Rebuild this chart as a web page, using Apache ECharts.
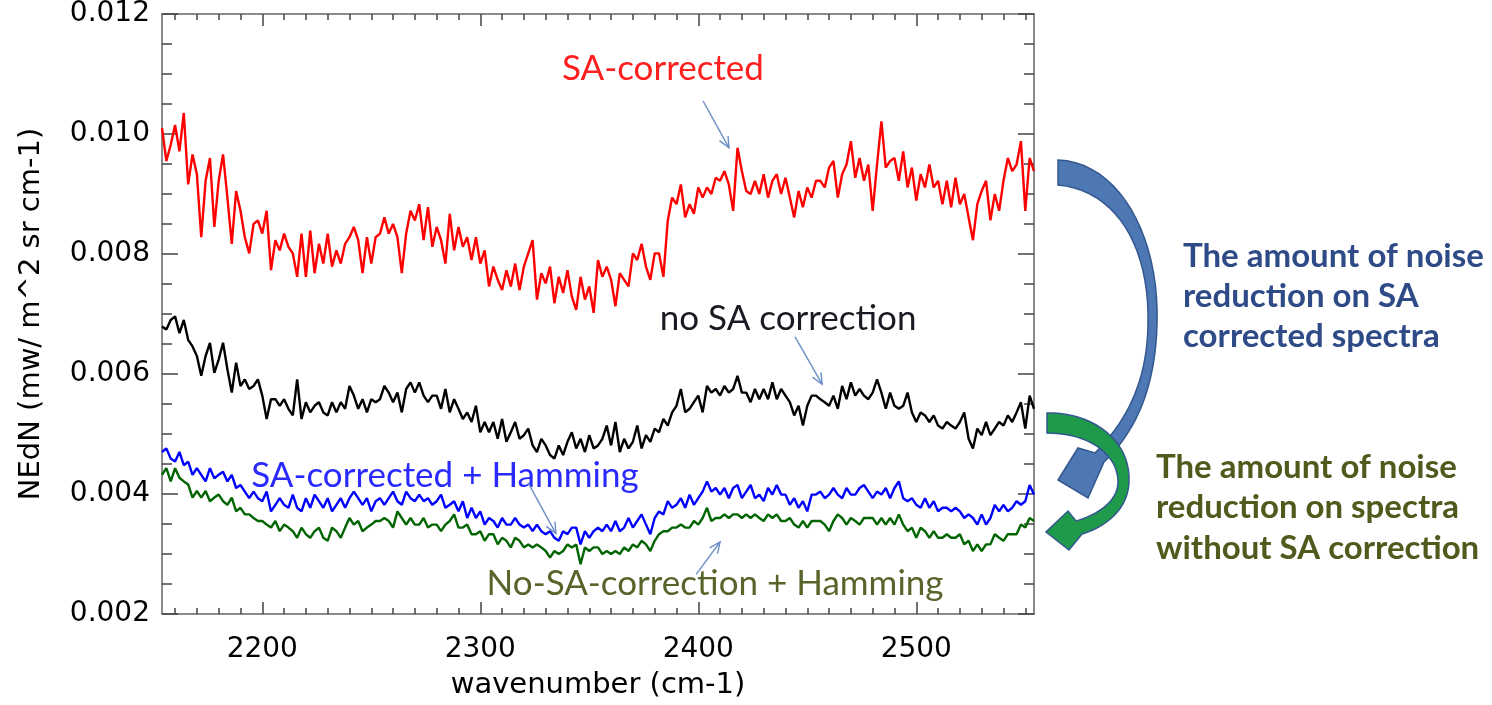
<!DOCTYPE html>
<html><head><meta charset="utf-8">
<script src="https://cdn.jsdelivr.net/npm/echarts@6/dist/echarts.min.js"></script>
<style>html,body{margin:0;padding:0;background:#fff}#c{width:1492px;height:705px}</style>
</head><body><div id="c"></div>
<script>
// ---------------- data ----------------
const wavenumber = [
2154,2156,2158,2160,2162,2164,2166,2168,2170,2172,2174,2176,2178,2180,2182,2184,2186,2188,2190,2192,2194,2196,2198,2200,2202,2204,2206,2208,2210,2212,2214,2216,2218,2220,2222,2224,2226,2228,2230,2232,2234,2236,2238,2240,2242,2244,2246,2248,2250,2252,
2254,2256,2258,2260,2262,2264,2266,2268,2270,2272,2274,2276,2278,2280,2282,2284,2286,2288,2290,2292,2294,2296,2298,2300,2302,2304,2306,2308,2310,2312,2314,2316,2318,2320,2322,2324,2326,2328,2330,2332,2334,2336,2338,2340,2342,2344,2346,2348,2350,2352,
2354,2356,2358,2360,2362,2364,2366,2368,2370,2372,2374,2376,2378,2380,2382,2384,2386,2388,2390,2392,2394,2396,2398,2400,2402,2404,2406,2408,2410,2412,2414,2416,2418,2420,2422,2424,2426,2428,2430,2432,2434,2436,2438,2440,2442,2444,2446,2448,2450,2452,2454,
2456,2458,2460,2462,2464,2466,2468,2470,2472,2474,2476,2478,2480,2482,2484,2486,2488,2490,2492,2494,2496,2498,2500,2502,2504,2506,2508,2510,2512,2514,2516,2518,2520,2522,2524,2526,2528,2530,2532,2534,2536,2538,2540,2542,2544,2546,2548,2550,2552,2554];

const saCorrected = [
0.01010,0.00955,0.00982,0.01015,0.00971,0.01035,0.00916,0.00966,0.00933,0.00828,0.00922,0.00960,0.00845,0.00922,0.00966,0.00894,0.00817,0.00905,0.00872,0.00828,0.00801,0.00850,0.00856,0.00834,0.00872,0.00773,0.00823,0.00806,0.00834,0.00812,0.00801,0.00762,0.00834,0.00762,0.00839,0.00768,0.00817,0.00784,0.00834,0.00779,0.00806,0.00784,0.00817,0.00828,0.00845,0.00823,0.00768,0.00828,0.00784,0.00828,
0.00834,0.00861,0.00834,0.00850,0.00828,0.00768,0.00834,0.00872,0.00856,0.00883,0.00823,0.00878,0.00812,0.00845,0.00823,0.00784,0.00867,0.00806,0.00845,0.00812,0.00828,0.00790,0.00828,0.00784,0.00806,0.00746,0.00779,0.00757,0.00740,0.00773,0.00746,0.00784,0.00740,0.00779,0.00801,0.00823,0.00724,0.00768,0.00751,0.00779,0.00718,0.00762,0.00735,0.00773,0.00729,0.00707,0.00762,0.00724,0.00746,0.00702,
0.00790,0.00762,0.00779,0.00757,0.00713,0.00768,0.00757,0.00746,0.00801,0.00790,0.00817,0.00779,0.00757,0.00801,0.00801,0.00762,0.00856,0.00894,0.00883,0.00916,0.00861,0.00883,0.00867,0.00911,0.00894,0.00911,0.00900,0.00927,0.00922,0.00938,0.00916,0.00872,0.00977,0.00938,0.00905,0.00900,0.00922,0.00900,0.00933,0.00894,0.00922,0.00933,0.00900,0.00927,0.00894,0.00861,0.00905,0.00878,0.00911,0.00894,0.00922,
0.00922,0.00911,0.00944,0.00955,0.00894,0.00933,0.00949,0.00988,0.00927,0.00960,0.00922,0.00949,0.00872,0.00949,0.01021,0.00944,0.00955,0.00960,0.00922,0.00971,0.00911,0.00944,0.00889,0.00933,0.00911,0.00949,0.00911,0.00922,0.00883,0.00922,0.00878,0.00927,0.00883,0.00900,0.00861,0.00823,0.00883,0.00905,0.00922,0.00856,0.00900,0.00872,0.00922,0.00960,0.00938,0.00949,0.00988,0.00872,0.00960,0.00938];

const noSACorrection = [
0.00679,0.00674,0.00690,0.00696,0.00668,0.00690,0.00657,0.00646,0.00630,0.00597,0.00630,0.00652,0.00602,0.00624,0.00652,0.00608,0.00569,0.00619,0.00580,0.00591,0.00575,0.00580,0.00591,0.00564,0.00525,0.00558,0.00558,0.00547,0.00558,0.00542,0.00531,0.00591,0.00525,0.00553,0.00536,0.00547,0.00553,0.00536,0.00531,0.00553,0.00536,0.00553,0.00542,0.00580,0.00564,0.00542,0.00558,0.00536,0.00558,0.00553,
0.00558,0.00580,0.00569,0.00553,0.00569,0.00536,0.00575,0.00586,0.00569,0.00586,0.00564,0.00553,0.00564,0.00564,0.00542,0.00575,0.00536,0.00558,0.00542,0.00525,0.00536,0.00520,0.00547,0.00503,0.00520,0.00503,0.00520,0.00492,0.00525,0.00487,0.00503,0.00520,0.00492,0.00498,0.00509,0.00481,0.00470,0.00492,0.00481,0.00465,0.00459,0.00481,0.00465,0.00487,0.00503,0.00476,0.00492,0.00470,0.00498,0.00476,
0.00481,0.00492,0.00514,0.00481,0.00520,0.00470,0.00492,0.00476,0.00487,0.00514,0.00476,0.00498,0.00487,0.00509,0.00503,0.00525,0.00514,0.00536,0.00547,0.00575,0.00536,0.00542,0.00553,0.00564,0.00536,0.00580,0.00569,0.00575,0.00564,0.00580,0.00569,0.00575,0.00597,0.00569,0.00569,0.00553,0.00575,0.00558,0.00575,0.00558,0.00586,0.00558,0.00575,0.00564,0.00553,0.00531,0.00547,0.00514,0.00547,0.00564,0.00564,
0.00558,0.00553,0.00547,0.00564,0.00542,0.00580,0.00558,0.00586,0.00564,0.00575,0.00564,0.00558,0.00569,0.00591,0.00569,0.00542,0.00569,0.00547,0.00542,0.00547,0.00569,0.00536,0.00520,0.00536,0.00531,0.00520,0.00531,0.00514,0.00509,0.00520,0.00514,0.00509,0.00520,0.00536,0.00492,0.00476,0.00509,0.00498,0.00520,0.00498,0.00509,0.00520,0.00514,0.00531,0.00520,0.00536,0.00553,0.00509,0.00564,0.00542];

const saCorrectedHamming = [
0.00470,0.00476,0.00459,0.00454,0.00470,0.00448,0.00454,0.00432,0.00443,0.00432,0.00421,0.00443,0.00426,0.00432,0.00437,0.00421,0.00432,0.00410,0.00415,0.00404,0.00393,0.00404,0.00393,0.00388,0.00404,0.00371,0.00382,0.00393,0.00382,0.00377,0.00399,0.00377,0.00371,0.00393,0.00377,0.00399,0.00388,0.00377,0.00393,0.00371,0.00382,0.00393,0.00377,0.00393,0.00404,0.00393,0.00382,0.00393,0.00371,0.00388,
0.00393,0.00382,0.00393,0.00404,0.00388,0.00382,0.00404,0.00393,0.00388,0.00399,0.00388,0.00393,0.00382,0.00388,0.00399,0.00377,0.00382,0.00388,0.00371,0.00388,0.00360,0.00377,0.00360,0.00371,0.00349,0.00360,0.00355,0.00344,0.00360,0.00349,0.00349,0.00360,0.00349,0.00344,0.00349,0.00338,0.00349,0.00338,0.00333,0.00338,0.00327,0.00322,0.00338,0.00333,0.00344,0.00344,0.00316,0.00338,0.00327,0.00338,
0.00344,0.00338,0.00349,0.00338,0.00355,0.00338,0.00344,0.00360,0.00344,0.00355,0.00366,0.00349,0.00333,0.00360,0.00371,0.00366,0.00388,0.00377,0.00382,0.00393,0.00377,0.00399,0.00382,0.00393,0.00404,0.00421,0.00404,0.00410,0.00399,0.00410,0.00393,0.00410,0.00415,0.00393,0.00404,0.00415,0.00393,0.00399,0.00388,0.00410,0.00399,0.00415,0.00399,0.00399,0.00382,0.00393,0.00377,0.00388,0.00371,0.00399,0.00399,
0.00404,0.00393,0.00399,0.00410,0.00399,0.00393,0.00410,0.00399,0.00399,0.00410,0.00415,0.00404,0.00393,0.00404,0.00399,0.00410,0.00393,0.00410,0.00421,0.00393,0.00388,0.00393,0.00382,0.00377,0.00393,0.00377,0.00388,0.00371,0.00377,0.00377,0.00371,0.00377,0.00371,0.00360,0.00366,0.00360,0.00349,0.00366,0.00349,0.00360,0.00382,0.00371,0.00382,0.00371,0.00377,0.00388,0.00382,0.00388,0.00415,0.00399];

const noSACorrectionHamming = [
0.00432,0.00443,0.00421,0.00443,0.00427,0.00421,0.00416,0.00394,0.00405,0.00394,0.00405,0.00388,0.00394,0.00399,0.00388,0.00382,0.00394,0.00371,0.00377,0.00366,0.00366,0.00360,0.00355,0.00355,0.00349,0.00344,0.00355,0.00338,0.00349,0.00344,0.00338,0.00327,0.00344,0.00333,0.00327,0.00338,0.00344,0.00327,0.00322,0.00344,0.00338,0.00327,0.00344,0.00360,0.00349,0.00355,0.00338,0.00344,0.00349,0.00355,
0.00355,0.00360,0.00355,0.00344,0.00371,0.00360,0.00349,0.00360,0.00349,0.00349,0.00360,0.00344,0.00349,0.00349,0.00338,0.00349,0.00355,0.00366,0.00344,0.00344,0.00349,0.00333,0.00333,0.00338,0.00322,0.00333,0.00333,0.00316,0.00327,0.00322,0.00311,0.00327,0.00322,0.00311,0.00316,0.00311,0.00316,0.00311,0.00305,0.00294,0.00305,0.00300,0.00305,0.00316,0.00311,0.00316,0.00283,0.00311,0.00305,0.00311,
0.00311,0.00300,0.00305,0.00300,0.00305,0.00300,0.00311,0.00305,0.00316,0.00311,0.00322,0.00316,0.00305,0.00322,0.00333,0.00338,0.00338,0.00344,0.00344,0.00349,0.00344,0.00344,0.00355,0.00349,0.00360,0.00377,0.00355,0.00360,0.00360,0.00366,0.00360,0.00366,0.00366,0.00360,0.00366,0.00360,0.00366,0.00360,0.00355,0.00366,0.00360,0.00366,0.00355,0.00355,0.00360,0.00349,0.00344,0.00355,0.00344,0.00355,0.00355,
0.00355,0.00349,0.00338,0.00355,0.00366,0.00360,0.00349,0.00360,0.00355,0.00349,0.00360,0.00360,0.00360,0.00349,0.00360,0.00349,0.00360,0.00349,0.00366,0.00349,0.00338,0.00344,0.00327,0.00344,0.00338,0.00327,0.00338,0.00327,0.00327,0.00333,0.00327,0.00327,0.00333,0.00316,0.00322,0.00305,0.00316,0.00305,0.00316,0.00316,0.00333,0.00327,0.00322,0.00333,0.00333,0.00333,0.00349,0.00344,0.00360,0.00355];

const xMajorTicks = [2200, 2300, 2400, 2500];
const xMinorTicks = [2160,2170,2180,2190,2210,2220,2230,2240,2250,2260,2270,2280,2290,2310,2320,2330,2340,2350,2360,2370,2380,2390,2410,2420,2430,2440,2450,2460,2470,2480,2490,2510,2520,2530,2540,2550];

// annotation texts (positions in data units)
const curveLabels = [
  {text: 'SA-corrected', at: [2383.8, 0.01108], color: '#ff1f1f'},
  {text: 'no SA correction', at: [2441.2, 0.00692], color: '#1a1a22'},
  {text: 'SA-corrected + Hamming', at: [2283.8, 0.00430], color: '#2a2aff'},
  {text: 'No-SA-correction + Hamming', at: [2407.7, 0.00250], color: '#57652a'}
];
const pointerArrows = [
  {from: [2402.2, 0.01055], to: [2414.1, 0.00977]},
  {from: [2444.4, 0.00662], to: [2456.8, 0.00583]},
  {from: [2321.9, 0.00419], to: [2334.7, 0.00334]},
  {from: [2399.0, 0.00266], to: [2410.0, 0.00320]}
];
const noteSA = ['The amount of noise', 'reduction on SA', 'corrected spectra'];
const noteNoSA = ['The amount of noise', 'reduction on spectra', 'without SA correction'];

// ---------------- chart ----------------
const chart = echarts.init(document.getElementById('c'), null, {renderer: 'canvas'});
const XMIN = 2154, XMAX = 2554;
const frame = {color: '#8a8a8a', width: 2};
const tickStyle = {color: '#444', width: 1.5};
const labelFont = {fontFamily: 'DejaVu Sans', fontSize: 28, color: '#000'};

function pairs(arr) { return wavenumber.map((w, i) => [w, arr[i]]); }
function lineSeries(name, arr, color) {
  return {name, type: 'line', data: pairs(arr), showSymbol: false, symbol: 'none',
    lineStyle: {color, width: 2.4}, itemStyle: {color}, silent: true, z: 3};
}
function xAx(pos, ticks, len, withLabels, withLine) {
  return {type: 'value', min: XMIN, max: XMAX, position: pos,
    axisLine: {show: withLine, onZero: false, lineStyle: frame},
    axisTick: {show: true, inside: true, length: len, customValues: ticks, lineStyle: tickStyle},
    axisLabel: withLabels ? Object.assign({show: true, customValues: ticks, margin: 22, formatter: v => String(v)}, labelFont) : {show: false},
    splitLine: {show: false}};
}

const xAxes = [
  Object.assign(xAx('bottom', xMajorTicks, 12, true, true), {
    name: 'wavenumber (cm-1)', nameLocation: 'middle', nameGap: 57,
    nameTextStyle: {fontFamily: 'DejaVu Sans', fontSize: 29, color: '#000'}}),
  xAx('bottom', xMinorTicks, 6, false, false),
  xAx('top', xMajorTicks, 12, false, true),
  xAx('top', xMinorTicks, 6, false, false)
];
function yAx(pos, withLabels) {
  const a = {type: 'value', min: 0.002, max: 0.012, interval: 0.002, position: pos,
    axisLine: {show: true, onZero: false, lineStyle: frame},
    axisTick: {show: true, inside: true, length: 16, lineStyle: tickStyle},
    minorTick: {show: true, splitNumber: 4, length: 10, lineStyle: tickStyle},
    axisLabel: withLabels ? Object.assign({show: true, margin: 12, formatter: v => v.toFixed(3)}, labelFont) : {show: false},
    splitLine: {show: false}, minorSplitLine: {show: false}};
  if (withLabels) {
    a.name = 'NEdN (mw/ m^2 sr cm-1)';
    a.nameLocation = 'middle';
    a.nameGap = 116;
    a.nameTextStyle = {fontFamily: 'DejaVu Sans', fontSize: 29, color: '#000'};
  }
  return a;
}

chart.setOption({
  animation: false,
  backgroundColor: '#ffffff',
  grid: {left: 162, right: 458, top: 12, bottom: 87},
  xAxis: xAxes,
  yAxis: [yAx('left', true), yAx('right', false)],
  series: [
    lineSeries('SA-corrected', saCorrected, '#ff0000'),
    lineSeries('no SA correction', noSACorrection, '#000000'),
    lineSeries('SA-corrected + Hamming', saCorrectedHamming, '#0000ff'),
    lineSeries('No-SA-correction + Hamming', noSACorrectionHamming, '#006400')
  ]
});

// ---------------- annotations ----------------
const P = (pt) => chart.convertToPixel({xAxisIndex: 0, yAxisIndex: 0}, pt);
const g = [];
curveLabels.forEach(l => {
  const p = P(l.at);
  g.push({type: 'text', z: 100, style: {text: l.text, x: p[0], y: p[1], fill: l.color,
    fontFamily: 'Lato', fontSize: 35, textAlign: 'center', textVerticalAlign: 'middle',
    align: 'center', verticalAlign: 'middle'}});
});
const arrowColor = '#6b8fc6';
pointerArrows.forEach(a => {
  const p0 = P(a.from), p1 = P(a.to);
  const ang = Math.atan2(p1[1] - p0[1], p1[0] - p0[0]);
  const hl = 12, sp = 0.42;
  g.push({type: 'polyline', z: 100, shape: {points: [p0, p1]}, style: {stroke: arrowColor, lineWidth: 1.4, fill: null}});
  g.push({type: 'polyline', z: 100, shape: {points: [
    [p1[0] - hl * Math.cos(ang - sp), p1[1] - hl * Math.sin(ang - sp)], p1,
    [p1[0] - hl * Math.cos(ang + sp), p1[1] - hl * Math.sin(ang + sp)]]},
    style: {stroke: arrowColor, lineWidth: 1.4, fill: null}});
});

// big curved arrows (decoration outside the plot): outline polygons from bezier segments
function outline(start, segs) {
  const pts = [start];
  let cur = start;
  segs.forEach(s => {
    if (s.length === 1) { pts.push(s[0]); cur = s[0]; return; }
    const [c1, c2, e] = s;
    for (let i = 1; i <= 20; i++) {
      const t = i / 20, u = 1 - t;
      pts.push([u*u*u*cur[0] + 3*u*u*t*c1[0] + 3*u*t*t*c2[0] + t*t*t*e[0],
                u*u*u*cur[1] + 3*u*u*t*c1[1] + 3*u*t*t*c2[1] + t*t*t*e[1]]);
    }
    cur = e;
  });
  return pts;
}
const blueArrow = outline([1058, 160], [
  [[1118, 162], [1160, 235], [1157, 325]],
  [[1155, 390], [1135, 432], [1104, 462]],
  [[1088, 498]], [[1058, 480]], [[1078, 448]], [[1095, 453]],
  [[1124, 424], [1147, 385], [1148, 325]],
  [[1150, 245], [1115, 190], [1058, 185]]
]);
const greenArrow = outline([1047, 413], [
  [[1092, 412], [1131, 440], [1129, 482]],
  [[1128, 508], [1108, 526], [1082, 534]],
  [[1069, 550]], [[1046, 532]], [[1068, 511]], [[1076, 521]],
  [[1100, 514], [1118, 500], [1118, 482]],
  [[1118, 455], [1090, 433], [1047, 433]]
]);
g.push({type: 'polygon', z: 100, shape: {points: blueArrow},
  style: {fill: '#4d78b3', stroke: '#33578f', lineWidth: 1.5}});
g.push({type: 'polygon', z: 101, shape: {points: greenArrow},
  style: {fill: '#1f9a4a', stroke: '#33578f', lineWidth: 1.5}});
noteSA.forEach((t, i) => g.push({type: 'text', z: 100, style: {text: t, x: 1183, y: 256 + i * 40,
  fill: '#2e4b87', fontFamily: 'Lato', fontWeight: 'bold', fontSize: 33,
  textAlign: 'left', textVerticalAlign: 'middle', align: 'left', verticalAlign: 'middle'}}));
noteNoSA.forEach((t, i) => g.push({type: 'text', z: 100, style: {text: t, x: 1156, y: 467 + i * 40.5,
  fill: '#4f5a1c', fontFamily: 'Lato', fontWeight: 'bold', fontSize: 33,
  textAlign: 'left', textVerticalAlign: 'middle', align: 'left', verticalAlign: 'middle'}}));
chart.setOption({graphic: {elements: g}});
</script>
</body></html>
